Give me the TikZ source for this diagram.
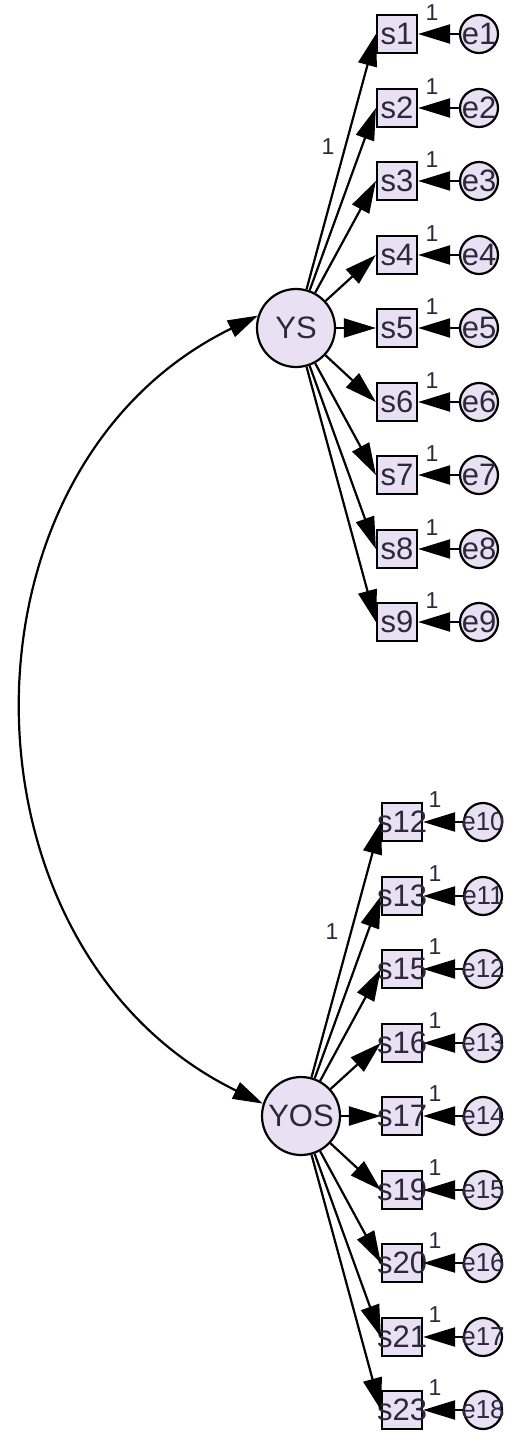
\documentclass[tikz,border=0pt]{standalone}
\usepackage{fontspec}
\setmainfont{Liberation Sans}
\usetikzlibrary{arrows.meta}
\definecolor{boxfill}{RGB}{233,225,243}
\definecolor{txtcol}{RGB}{45,40,60}
\newcommand{\nb}[1]{\makebox[0pt]{#1}}

\begin{document}
\begin{tikzpicture}[x=1pt, y=-1pt, line width=2.2pt,
  obs/.style={rectangle, draw, fill=boxfill, text=txtcol, minimum width=40pt, minimum height=38pt, inner sep=0pt, font=\fontsize{31}{33}\selectfont},
  err/.style={circle, draw, fill=boxfill, text=txtcol, minimum size=38pt, inner sep=0pt, font=\fontsize{31}{33}\selectfont},
  errw/.style={err, font=\fontsize{26}{28}\selectfont},
  lat/.style={circle, draw, fill=boxfill, text=txtcol, minimum size=78pt, inner sep=0pt, font=\fontsize{31}{33}\selectfont},
  lbl/.style={text=txtcol, inner sep=0pt, font=\fontsize{23}{25}\selectfont},
  arr/.style={-{Triangle[length=32pt,width=19pt]}},
  dbl/.style={{Triangle[length=30pt,width=18pt]}-{Triangle[length=30pt,width=18pt]}}]
  \useasboundingbox (0,0) rectangle (506,1432);

  \node[lat] (YS) at (296,328) {YS};
  \node[lat] (YOS) at (301,1116) {YOS};

  \node[obs] (s1) at (397,34) {\nb{s1}};
  \node[obs] (s2) at (397,108) {\nb{s2}};
  \node[obs] (s3) at (397,181) {\nb{s3}};
  \node[obs] (s4) at (397,255) {\nb{s4}};
  \node[obs] (s5) at (397,328) {\nb{s5}};
  \node[obs] (s6) at (397,402) {\nb{s6}};
  \node[obs] (s7) at (397,475) {\nb{s7}};
  \node[obs] (s8) at (397,549) {\nb{s8}};
  \node[obs] (s9) at (397,622) {\nb{s9}};

  \node[err] (e1) at (479,34) {\nb{e1}};
  \node[err] (e2) at (479,108) {\nb{e2}};
  \node[err] (e3) at (479,181) {\nb{e3}};
  \node[err] (e4) at (479,255) {\nb{e4}};
  \node[err] (e5) at (479,328) {\nb{e5}};
  \node[err] (e6) at (479,402) {\nb{e6}};
  \node[err] (e7) at (479,475) {\nb{e7}};
  \node[err] (e8) at (479,549) {\nb{e8}};
  \node[err] (e9) at (479,622) {\nb{e9}};

  \node[obs] (s12) at (402,822) {\nb{s12}};
  \node[obs] (s13) at (402,896) {\nb{s13}};
  \node[obs] (s15) at (402,969) {\nb{s15}};
  \node[obs] (s16) at (402,1043) {\nb{s16}};
  \node[obs] (s17) at (402,1116) {\nb{s17}};
  \node[obs] (s19) at (402,1190) {\nb{s19}};
  \node[obs] (s20) at (402,1263) {\nb{s20}};
  \node[obs] (s21) at (402,1337) {\nb{s21}};
  \node[obs] (s23) at (402,1410) {\nb{s23}};

  \node[errw] (e10) at (483,822) {\nb{e10}};
  \node[errw] (e11) at (483,896) {\nb{e11}};
  \node[errw] (e12) at (483,969) {\nb{e12}};
  \node[errw] (e13) at (483,1043) {\nb{e13}};
  \node[errw] (e14) at (483,1116) {\nb{e14}};
  \node[errw] (e15) at (483,1190) {\nb{e15}};
  \node[errw] (e16) at (483,1263) {\nb{e16}};
  \node[errw] (e17) at (483,1337) {\nb{e17}};
  \node[errw] (e18) at (483,1410) {\nb{e18}};

  % loadings
  \draw[arr] (YS) -- (s1.west);
  \draw[arr] (YS) -- (s2.west);
  \draw[arr] (YS) -- (s3.west);
  \draw[arr] (YS) -- (s4.west);
  \draw[arr] (YS) -- (s5.west);
  \draw[arr] (YS) -- (s6.west);
  \draw[arr] (YS) -- (s7.west);
  \draw[arr] (YS) -- (s8.west);
  \draw[arr] (YS) -- (s9.west);

  \draw[arr] (YOS) -- (s12.west);
  \draw[arr] (YOS) -- (s13.west);
  \draw[arr] (YOS) -- (s15.west);
  \draw[arr] (YOS) -- (s16.west);
  \draw[arr] (YOS) -- (s17.west);
  \draw[arr] (YOS) -- (s19.west);
  \draw[arr] (YOS) -- (s20.west);
  \draw[arr] (YOS) -- (s21.west);
  \draw[arr] (YOS) -- (s23.west);

  % errors
  \draw[arr] (e1) -- (s1);
  \draw[arr] (e2) -- (s2);
  \draw[arr] (e3) -- (s3);
  \draw[arr] (e4) -- (s4);
  \draw[arr] (e5) -- (s5);
  \draw[arr] (e6) -- (s6);
  \draw[arr] (e7) -- (s7);
  \draw[arr] (e8) -- (s8);
  \draw[arr] (e9) -- (s9);

  \draw[arr] (e10) -- (s12);
  \draw[arr] (e11) -- (s13);
  \draw[arr] (e12) -- (s15);
  \draw[arr] (e13) -- (s16);
  \draw[arr] (e14) -- (s17);
  \draw[arr] (e15) -- (s19);
  \draw[arr] (e16) -- (s20);
  \draw[arr] (e17) -- (s21);
  \draw[arr] (e18) -- (s23);

  % covariance
  \draw[dbl] (YS.162) to[out=206, in=154, looseness=1.13] (YOS.162);

  % fixed paths
  \node[lbl] (l1) at (328,147) {1};
  \node[lbl] (l2) at (332,932) {1};

  \node[lbl] (f1) at (432,13) {1};
  \node[lbl] (f2) at (432,87) {1};
  \node[lbl] (f3) at (432,160) {1};
  \node[lbl] (f4) at (432,234) {1};
  \node[lbl] (f5) at (432,307) {1};
  \node[lbl] (f6) at (432,381) {1};
  \node[lbl] (f7) at (432,454) {1};
  \node[lbl] (f8) at (432,528) {1};
  \node[lbl] (f9) at (432,601) {1};

  \node[lbl] (f10) at (435,800) {1};
  \node[lbl] (f11) at (435,874) {1};
  \node[lbl] (f12) at (435,947) {1};
  \node[lbl] (f13) at (435,1021) {1};
  \node[lbl] (f14) at (435,1094) {1};
  \node[lbl] (f15) at (435,1168) {1};
  \node[lbl] (f16) at (435,1241) {1};
  \node[lbl] (f17) at (435,1315) {1};
  \node[lbl] (f18) at (435,1388) {1};
\end{tikzpicture}
\end{document}
